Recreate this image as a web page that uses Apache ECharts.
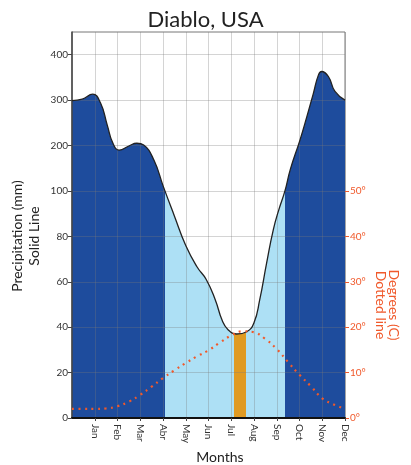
<!DOCTYPE html>
<html>
<head>
<meta charset="utf-8">
<script src="https://cdn.jsdelivr.net/npm/echarts@6/dist/echarts.min.js"></script>
<style>
html,body{margin:0;padding:0;background:#fff;}
#chart{width:411px;height:465px;}
</style>
</head>
<body>
<div id="chart"></div>
<script>
// ---- data ----
var monthLabels = ['Jan','Feb','Mar','Abr','May','Jun','Jul','Aug','Sep','Oct','Nov','Dec'];
// precipitation curve, month position (0..12) and mm
var precipMonths = [0, 0.45, 0.91, 1.25, 1.55, 1.8, 2.08, 2.5, 2.85, 3.15, 3.6, 4.02, 4.5, 5.0, 5.5, 5.9, 6.3, 6.6, 6.85, 7.24, 7.68, 8.0, 8.25, 8.55, 8.85, 9.1, 9.36, 9.6, 10.02, 10.32, 10.61, 10.83, 10.97, 11.27, 11.56, 12];
var precipMm =     [299, 302, 313, 294, 245, 205, 190, 199, 205, 201, 168, 109, 89, 76, 66.5, 61, 52, 43, 39, 37, 38, 42, 52, 68, 83, 92, 100, 148, 212, 263, 315, 355, 363, 352, 319, 300];
// temperature (°C), month position
var tempMonths = [0, 0.5, 1, 1.5, 2, 2.5, 3, 3.5, 4, 4.5, 5, 5.5, 6, 6.5, 7, 7.5, 8, 8.5, 9, 9.5, 10, 10.5, 11, 11.5, 12];
var tempC =      [2.0, 2.0, 2.0, 2.1, 2.6, 3.6, 5.1, 6.9, 8.8, 10.5, 12.1, 13.6, 14.9, 16.6, 18.2, 19.1, 18.9, 17.4, 15.2, 12.3, 9.5, 7.0, 4.3, 3.0, 2.0];
// period boundaries (month positions): wet>100mm / humid / arid
var humidStart = 4.1, aridStart = 7.13, aridEnd = 7.66, humidEnd = 9.36;
var precipTickValues = [0, 20, 40, 60, 80, 100, 120, 140, 160];
var tempTickValues = [0, 10, 20, 30, 40, 50];

// precipitation axis scale: linear to 100, compressed 1:5 above
function scaleP(p){ return p <= 100 ? p : 100 + (p - 100) / 5; }
function unscaleP(v){ return v <= 100 ? v : 100 + (v - 100) * 5; }

var precipData = precipMonths.map(function(m,i){ return [m, scaleP(precipMm[i])]; });
var tempData = tempMonths.map(function(m,i){ return [m, tempC[i]]; });

var DARK = '#1e4c9d', LIGHT = '#ade0f5', ARID = '#e09a22', TEMP = '#f0592b';
var FONT = 'Lato, "Open Sans", sans-serif';
var gridLine = {show:true, lineStyle:{color:'rgba(120,120,120,0.32)', width:1}};

var chart = echarts.init(document.getElementById('chart'), null, {renderer:'canvas'});
chart.setOption({
  animation:false,
  textStyle:{fontFamily:FONT},
  title:{text:'Diablo, USA', left:'center', top:4, textStyle:{fontFamily:FONT, fontSize:22, fontWeight:'normal', color:'#222'}},
  grid:{left:72, right:66, top:32, bottom:47, show:true, borderColor:'#777', borderWidth:1, containLabel:false},
  xAxis:{
    type:'value', min:0, max:12, interval:1, z:3,
    axisLine:{show:true, onZero:false, lineStyle:{color:'#111', width:2}},
    axisTick:{show:true, length:3, customValues:[1,2,3,4,5,6,7,8,9,10,11,12], lineStyle:{color:'#444'}},
    axisLabel:{rotate:-90, margin:6, fontSize:10, color:'#333', fontFamily:FONT,
      customValues:[1,2,3,4,5,6,7,8,9,10,11,12],
      formatter:function(v){ return monthLabels[v-1] || ''; }},
    splitLine:gridLine
  },
  yAxis:[{
    type:'value', min:0, max:170, interval:10, z:3,
    axisLine:{show:true, lineStyle:{color:'#444', width:1.5}},
    axisTick:{show:true, length:4, customValues:precipTickValues, lineStyle:{color:'#444'}},
    axisLabel:{fontSize:10, color:'#333', margin:4, fontFamily:FONT, customValues:precipTickValues,
      formatter:function(v){ return String(unscaleP(v)); }},
    splitLine:gridLine
  },{
    type:'value', min:0, max:85, position:'right', z:3,
    axisLine:{show:false},
    axisTick:{show:true, length:4, customValues:tempTickValues, lineStyle:{color:TEMP}},
    axisLabel:{fontSize:10, color:TEMP, margin:5, fontFamily:FONT, customValues:tempTickValues,
      formatter:function(v){ return v + '°'; }},
    splitLine:{show:false}
  }],
  visualMap:{
    type:'piecewise', show:false, dimension:0, seriesIndex:0,
    pieces:[
      {lt:humidStart, color:DARK},
      {gte:humidStart, lt:aridStart, color:LIGHT},
      {gte:aridStart, lt:aridEnd, color:ARID},
      {gte:aridEnd, lt:humidEnd, color:LIGHT},
      {gte:humidEnd, color:DARK}
    ]
  },
  series:[{
    type:'line', name:'area', data:precipData, smooth:0.5, showSymbol:false, z:1,
    lineStyle:{width:0}, areaStyle:{opacity:1}, silent:true
  },{
    type:'line', name:'Precipitation', data:precipData, smooth:0.5, showSymbol:false, z:4,
    lineStyle:{color:'#222', width:1.3}, silent:true
  },{
    type:'line', name:'Temperature', yAxisIndex:1, data:tempData, smooth:0.4, showSymbol:false, z:5,
    lineStyle:{color:TEMP, width:2.2, type:[2,4.5], cap:'butt'}, silent:true
  }],
  graphic:[
    {type:'text', x:26, y:236, rotation:Math.PI/2,
     style:{text:'Precipitation (mm)\nSolid Line', font:'14px ' + FONT, fill:'#222', align:'center', verticalAlign:'middle', lineHeight:17}},
    {type:'text', x:387, y:305, rotation:-Math.PI/2,
     style:{text:'Degrees (C)\nDotted line', font:'14px ' + FONT, fill:TEMP, align:'center', verticalAlign:'middle', lineHeight:13}},
    {type:'text', x:220, y:457,
     style:{text:'Months', font:'14px ' + FONT, fill:'#222', align:'center', verticalAlign:'middle'}}
  ]
});
</script>
</body>
</html>
